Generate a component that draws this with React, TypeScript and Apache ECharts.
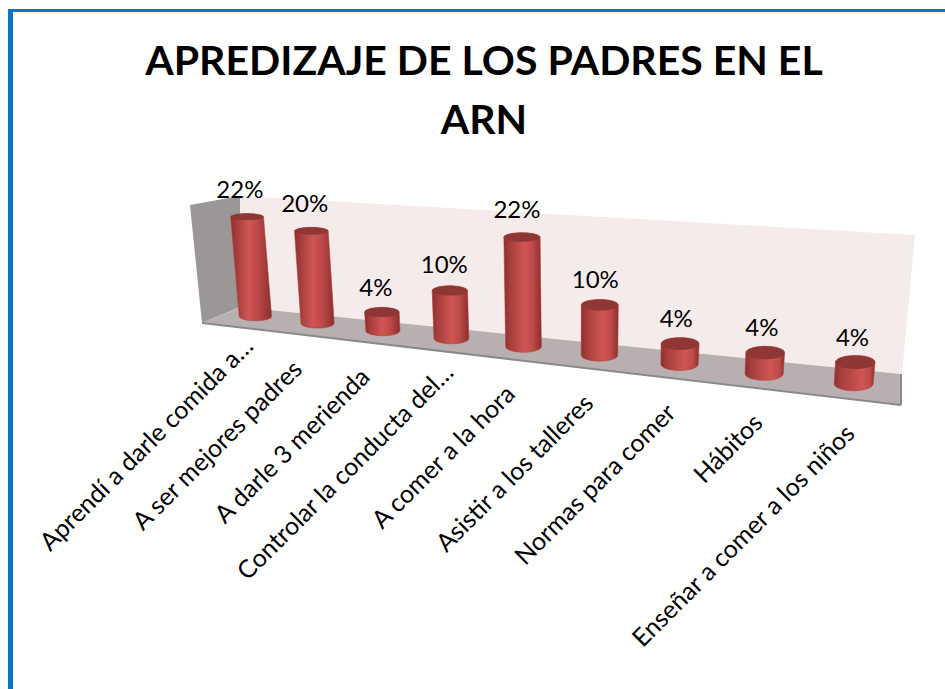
import React, { useEffect, useRef } from "react";
import * as echarts from "echarts";

const chartTitle = "APREDIZAJE DE LOS PADRES EN EL\nARN";
const categories = [
  "Aprendí a darle comida a…",
  "A ser mejores padres",
  "A darle 3 merienda",
  "Controlar la conducta del…",
  "A comer a la hora",
  "Asistir a los talleres",
  "Normas para comer",
  "Hábitos",
  "Enseñar a comer a los niños",
];
const percentages = [22, 20, 4, 10, 22, 10, 4, 4, 4];

const FONT = "Lato, Carlito, sans-serif";
const GRID = { left: 200, top: 150, width: 700, height: 200 };
const Y_MAX = 30;

// Perspective view: the flat grid is mapped on the plane through the cylinders' axes.
const Q = { p0: [225.4, 313], p1: [900.4, 389], p2: [915, 219.5], p3: [213, 177.5] };
function makeHomography() {
  const { p0, p1, p2, p3 } = Q;
  const sx = p0[0] - p1[0] + p2[0] - p3[0];
  const sy = p0[1] - p1[1] + p2[1] - p3[1];
  const dx1 = p1[0] - p2[0], dx2 = p3[0] - p2[0];
  const dy1 = p1[1] - p2[1], dy2 = p3[1] - p2[1];
  const det = dx1 * dy2 - dx2 * dy1;
  const g = (sx * dy2 - dx2 * sy) / det;
  const h = (dx1 * sy - sx * dy1) / det;
  const a = p1[0] - p0[0] + g * p1[0];
  const b = p3[0] - p0[0] + h * p3[0];
  const d = p1[1] - p0[1] + g * p1[1];
  const e = p3[1] - p0[1] + h * p3[1];
  return (u: number, v: number) => {
    const w = g * u + h * v + 1;
    return [(a * u + b * v + p0[0]) / w, (d * u + e * v + p0[1]) / w];
  };
}
const project = makeHomography();

function halfEllipse(cx: number, cy: number, rx: number, ry: number, from: number, to: number) {
  const pts: number[][] = [];
  const n = 24;
  for (let k = 0; k <= n; k++) {
    const t = from + ((to - from) * k) / n;
    pts.push([cx + rx * Math.cos(t), cy + ry * Math.sin(t)]);
  }
  return pts;
}

function renderCylinder(params: any, api: any) {
  const rect = params.coordSys;
  const value = api.value(1);
  const base = api.coord([api.value(0), 0]);
  const top = api.coord([api.value(0), value]);
  const u = (base[0] - rect.x) / rect.width;
  const vTop = (rect.y + rect.height - top[1]) / rect.height;
  const B = project(u, 0);
  const T = project(u, vTop);
  const rxTop = 16.2 + 3.8 * u;
  const rxBase = 16 + 3.7 * u;
  const ryTop = 4.2 + 3 * u - 0.05 * value;
  const ryBase = 4.2 + 3 * u;
  const hl = 0.42 + 0.28 * u;
  const body = [
    ...halfEllipse(B[0], B[1], rxBase, ryBase, 0, Math.PI),
    ...halfEllipse(T[0], T[1], rxTop, ryTop, Math.PI, 2 * Math.PI),
  ];
  const fill = new echarts.graphic.LinearGradient(0, 0, 1, 0, [
    { offset: 0, color: "#8E2F2E" },
    { offset: 0.16, color: "#A63E3C" },
    { offset: hl, color: "#D05654" },
    { offset: Math.min(hl + 0.22, 0.88), color: "#BC4A48" },
    { offset: 1, color: "#8C2E2D" },
  ]);
  const name = categories[params.dataIndex];
  const across = 15 + 26 * u;
  const along = name.endsWith("…") ? -32 : -64 + 16 * u;
  return {
    type: "group",
    children: [
      { type: "polygon", shape: { points: body }, style: { fill, stroke: "#B04240", lineWidth: 0.6 } },
      { type: "ellipse", shape: { cx: T[0], cy: T[1], rx: rxTop, ry: ryTop }, style: { fill: "#8F3735" } },
      {
        type: "text",
        x: T[0] - 7.5 + 5 * u,
        y: T[1] - 25.3 - 0.14 * value,
        style: {
          text: value + "%",
          fill: "#000",
          font: `24px ${FONT}`,
          align: "center",
          verticalAlign: "middle",
        },
      },
      {
        type: "text",
        x: B[0] + (across + along) / 2,
        y: B[1] + (across - along) / 2,
        rotation: Math.PI / 4,
        style: {
          text: name,
          fill: "#000",
          font: `25px ${FONT}`,
          align: "right",
          verticalAlign: "middle",
        },
      },
    ],
  };
}

export default function App() {
  const ref = useRef<HTMLDivElement>(null);
  useEffect(() => {
    const chart = echarts.init(ref.current!, undefined, { renderer: "svg" });
    chart.setOption({
      animation: false,
      backgroundColor: "#ffffff",
      title: {
        text: chartTitle,
        left: 479,
        top: 25,
        textAlign: "center",
        textStyle: { fontFamily: FONT, fontWeight: "bold", fontSize: 41, lineHeight: 59, color: "#000" },
      },
      grid: { ...GRID },
      xAxis: { type: "category", data: categories, show: false },
      yAxis: { type: "value", min: 0, max: Y_MAX, interval: 5, show: false },
      graphic: [
        { type: "rect", z: 1, shape: { x: 8, y: 9, width: 5, height: 680 }, style: { fill: "#0B72C4" } },
        { type: "rect", z: 1, shape: { x: 8, y: 9, width: 937, height: 3 }, style: { fill: "#0B72C4" } },
        {
          type: "polygon", z: 1,
          shape: { points: [[240, 196], [915, 235], [902, 374], [240, 307]] },
          style: { fill: "#F6EBEB" },
        },
        {
          type: "polygon", z: 1,
          shape: { points: [[190, 205], [240, 196], [240, 307], [202, 323]] },
          style: { fill: "#9C9797" },
        },
        {
          type: "polygon", z: 1,
          shape: { points: [[202, 323], [240, 307], [901, 374], [901, 405]] },
          style: { fill: "#B8B0B0" },
        },
        { type: "line", z: 1, shape: { x1: 202, y1: 323, x2: 901, y2: 405 }, style: { stroke: "#8A8A8A", lineWidth: 2 } },
        { type: "line", z: 1, shape: { x1: 901, y1: 374, x2: 901, y2: 405 }, style: { stroke: "#8A8A8A", lineWidth: 2 } },
      ],
      series: [
        {
          type: "custom",
          z: 10,
          clip: false,
          renderItem: renderCylinder,
          encode: { x: 0, y: 1 },
          data: percentages.map((v, i) => [i, v]),
        },
      ],
    });
    return () => chart.dispose();
  }, []);
  return <div ref={ref} style={{ position: "absolute", left: 0, top: 0, width: 945, height: 689 }} />;
}
